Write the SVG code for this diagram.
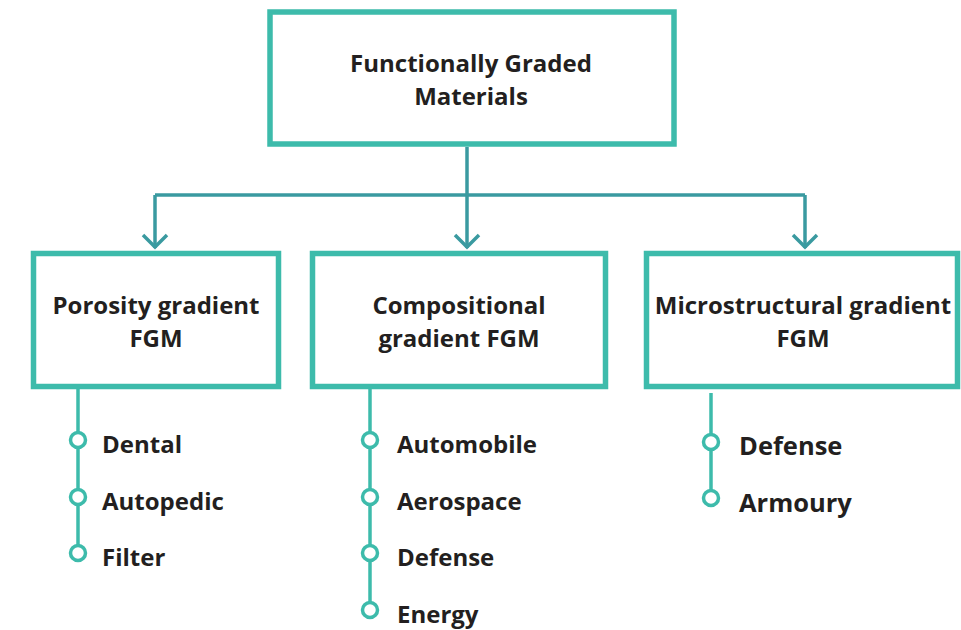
<svg xmlns="http://www.w3.org/2000/svg" width="961" height="630" viewBox="0 0 961 630">
<style>
.box{fill:#fff;stroke:#3dbbab;stroke-width:5.5}
.conn{fill:none;stroke:#3a9aa0;stroke-width:3.5}
.list{fill:none;stroke:#3dbbab;stroke-width:3.5}
.dot{fill:#fff;stroke:#3dbbab;stroke-width:3.5}
.t{font-family:"Open Sans",sans-serif;font-weight:700;fill:#231f20;text-anchor:middle;font-size:24px}
.li{font-family:"Open Sans",sans-serif;font-weight:700;fill:#231f20;font-size:24px}
.li2{font-family:"Open Sans",sans-serif;font-weight:700;fill:#231f20;font-size:25.5px}
</style>
<g id="connectors">
<path class="conn" d="M467,147 V195"/>
<path class="conn" d="M155,195 H805"/>
<path class="conn" d="M155,195 V248"/>
<path class="conn" d="M467,195 V248"/>
<path class="conn" d="M805,195 V248"/>
<path class="conn" d="M143,235 L155,247 L167,235"/>
<path class="conn" d="M455,235 L467,247 L479,235"/>
<path class="conn" d="M793,235 L805,247 L817,235"/>
</g>
<g id="node-root">
<rect class="box" x="270" y="12" width="404" height="132"/>
<text class="t" x="471" y="72">Functionally Graded</text>
<text class="t" x="471" y="105">Materials</text>
</g>
<g id="node-porosity">
<rect class="box" x="33.5" y="253.5" width="245" height="133"/>
<text class="t" x="156" y="314">Porosity gradient</text>
<text class="t" x="156" y="347">FGM</text>
</g>
<g id="node-compositional">
<rect class="box" x="312.5" y="253.5" width="293" height="133"/>
<text class="t" x="459" y="314">Compositional</text>
<text class="t" x="459" y="347">gradient FGM</text>
</g>
<g id="node-microstructural">
<rect class="box" x="646.5" y="253.5" width="311" height="133"/>
<text class="t" x="803" y="314">Microstructural gradient</text>
<text class="t" x="803" y="347">FGM</text>
</g>
<g id="list-porosity">
<path class="list" d="M78,389 V553"/>
<circle class="dot" cx="78" cy="440" r="7.5"/>
<circle class="dot" cx="78" cy="497" r="7.5"/>
<circle class="dot" cx="78" cy="553" r="7.5"/>
<text class="li" x="102" y="453">Dental</text>
<text class="li" x="102" y="510">Autopedic</text>
<text class="li" x="102" y="566">Filter</text>
</g>
<g id="list-compositional">
<path class="list" d="M370,389 V610"/>
<circle class="dot" cx="370" cy="440" r="7.5"/>
<circle class="dot" cx="370" cy="497" r="7.5"/>
<circle class="dot" cx="370" cy="553" r="7.5"/>
<circle class="dot" cx="370" cy="610" r="7.5"/>
<text class="li" x="397" y="453">Automobile</text>
<text class="li" x="397" y="510">Aerospace</text>
<text class="li" x="397" y="566">Defense</text>
<text class="li" x="397" y="623">Energy</text>
</g>
<g id="list-microstructural">
<path class="list" d="M711,393 V498"/>
<circle class="dot" cx="711" cy="442" r="7.5"/>
<circle class="dot" cx="711" cy="498" r="7.5"/>
<text class="li2" x="739" y="455">Defense</text>
<text class="li2" x="739" y="512">Armoury</text>
</g>
</svg>
